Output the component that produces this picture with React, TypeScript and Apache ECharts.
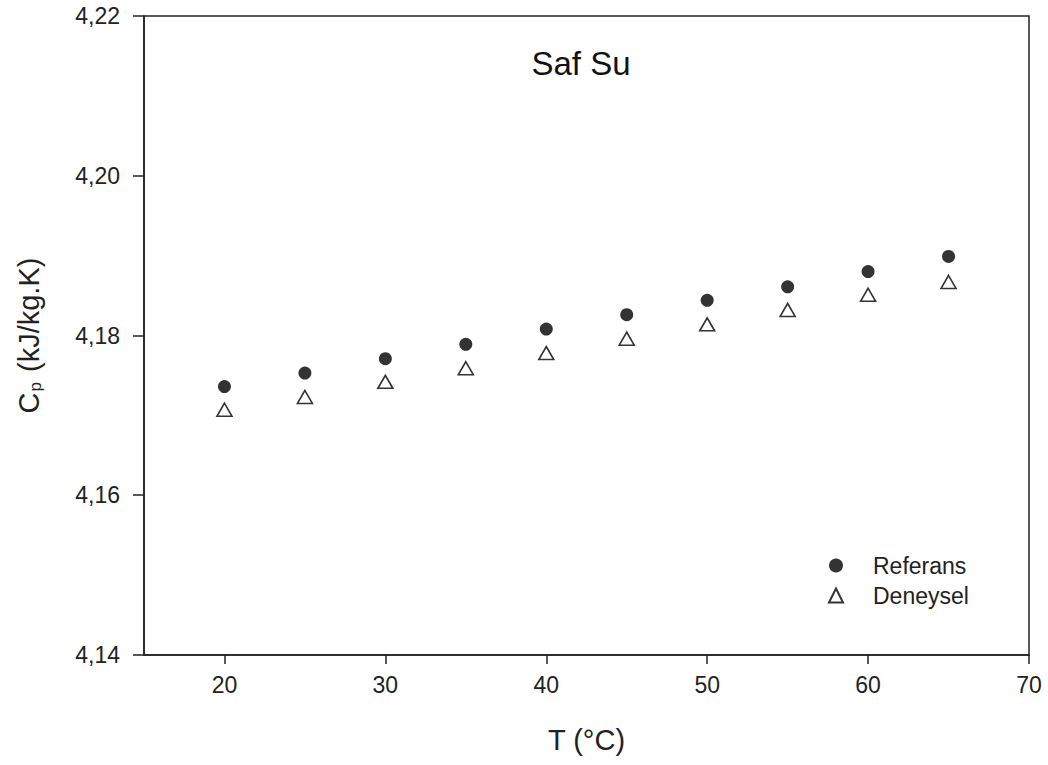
import React, { useEffect, useRef } from "react";
import * as echarts from "echarts";

const temperatures = [20, 25, 30, 35, 40, 45, 50, 55, 60, 65];
const referans = [4.1736, 4.1753, 4.1771, 4.1789, 4.1808, 4.1826, 4.1844, 4.1861, 4.188, 4.1899];
const deneysel = [4.1707, 4.1723, 4.1742, 4.1759, 4.1778, 4.1796, 4.1814, 4.1832, 4.1851, 4.1867];
const xTicks = [20, 30, 40, 50, 60, 70];
const chartTitle = "Saf Su";
const seriesNames = ["Referans", "Deneysel"];

const FONT = "'Liberation Sans', Arial, sans-serif";
const TEXT = "#222";
const AXIS = "#222";

export default function App() {
  const ref = useRef<HTMLDivElement>(null);
  useEffect(() => {
    if (!ref.current) return;
    const chart = echarts.init(ref.current, undefined, { renderer: "svg" });
    chart.setOption({
      animation: false,
      backgroundColor: "#fff",
      grid: {
        left: 144,
        top: 16,
        right: 19,
        bottom: 110,
        show: true,
        borderColor: AXIS,
        borderWidth: 1.5,
        backgroundColor: "transparent",
      },
      graphic: [
        {
          type: "text",
          x: 581,
          y: 63,
          style: {
            text: chartTitle,
            font: `33px ${FONT}`,
            fill: "#111",
            align: "center",
            verticalAlign: "middle",
          },
        },
      ],
      legend: {
        orient: "vertical",
        left: 823,
        top: 549,
        itemWidth: 14,
        itemHeight: 14,
        itemGap: 7,
        data: seriesNames,
        textStyle: {
          fontFamily: FONT,
          fontSize: 23,
          color: TEXT,
          padding: [0, 0, 0, 25],
        },
      },
      xAxis: {
        type: "value",
        min: 15,
        max: 70,
        name: "T (°C)",
        nameLocation: "middle",
        nameGap: 70,
        nameTextStyle: { fontFamily: FONT, fontSize: 29, color: TEXT },
        axisLine: { show: true, lineStyle: { color: AXIS, width: 1.5 } },
        axisTick: {
          show: true,
          inside: false,
          length: 9,
          customValues: xTicks,
          lineStyle: { color: AXIS, width: 1.5 },
        },
        axisLabel: {
          customValues: xTicks,
          margin: 18,
          fontFamily: FONT,
          fontSize: 23,
          color: TEXT,
        },
        splitLine: { show: false },
      },
      yAxis: {
        type: "value",
        min: 4.14,
        max: 4.22,
        interval: 0.02,
        name: "{a|C}{b|p}{a| (kJ/kg.K)}",
        nameLocation: "middle",
        nameGap: 100,
        nameTextStyle: {
          rich: {
            a: { fontFamily: FONT, fontSize: 29, color: TEXT, lineHeight: 30 },
            b: {
              fontFamily: FONT,
              fontSize: 17,
              color: TEXT,
              verticalAlign: "bottom",
              lineHeight: 3,
              padding: [0, 2, 0, 1],
            },
          },
        },
        axisLine: { show: true, lineStyle: { color: AXIS, width: 1.5 } },
        axisTick: { show: true, inside: false, length: 11, lineStyle: { color: AXIS, width: 1.5 } },
        axisLabel: {
          margin: 24,
          fontFamily: FONT,
          fontSize: 23,
          color: TEXT,
          formatter: (v: number) => v.toFixed(2).replace(".", ","),
        },
        splitLine: { show: false },
      },
      series: [
        {
          name: seriesNames[0],
          type: "scatter",
          symbol: "circle",
          symbolSize: 13,
          itemStyle: { color: "#000" },
          data: temperatures.map((t, i) => [t, referans[i]]),
        },
        {
          name: seriesNames[1],
          type: "scatter",
          symbol: "triangle",
          symbolSize: [15, 13],
          itemStyle: { color: "#fff", borderColor: "#000", borderWidth: 1.6 },
          data: temperatures.map((t, i) => [t, deneysel[i]]),
        },
      ],
    });
    return () => chart.dispose();
  }, []);
  return <div ref={ref} style={{ width: 1048, height: 765, position: "absolute", left: 0, top: 0 }} />;
}
